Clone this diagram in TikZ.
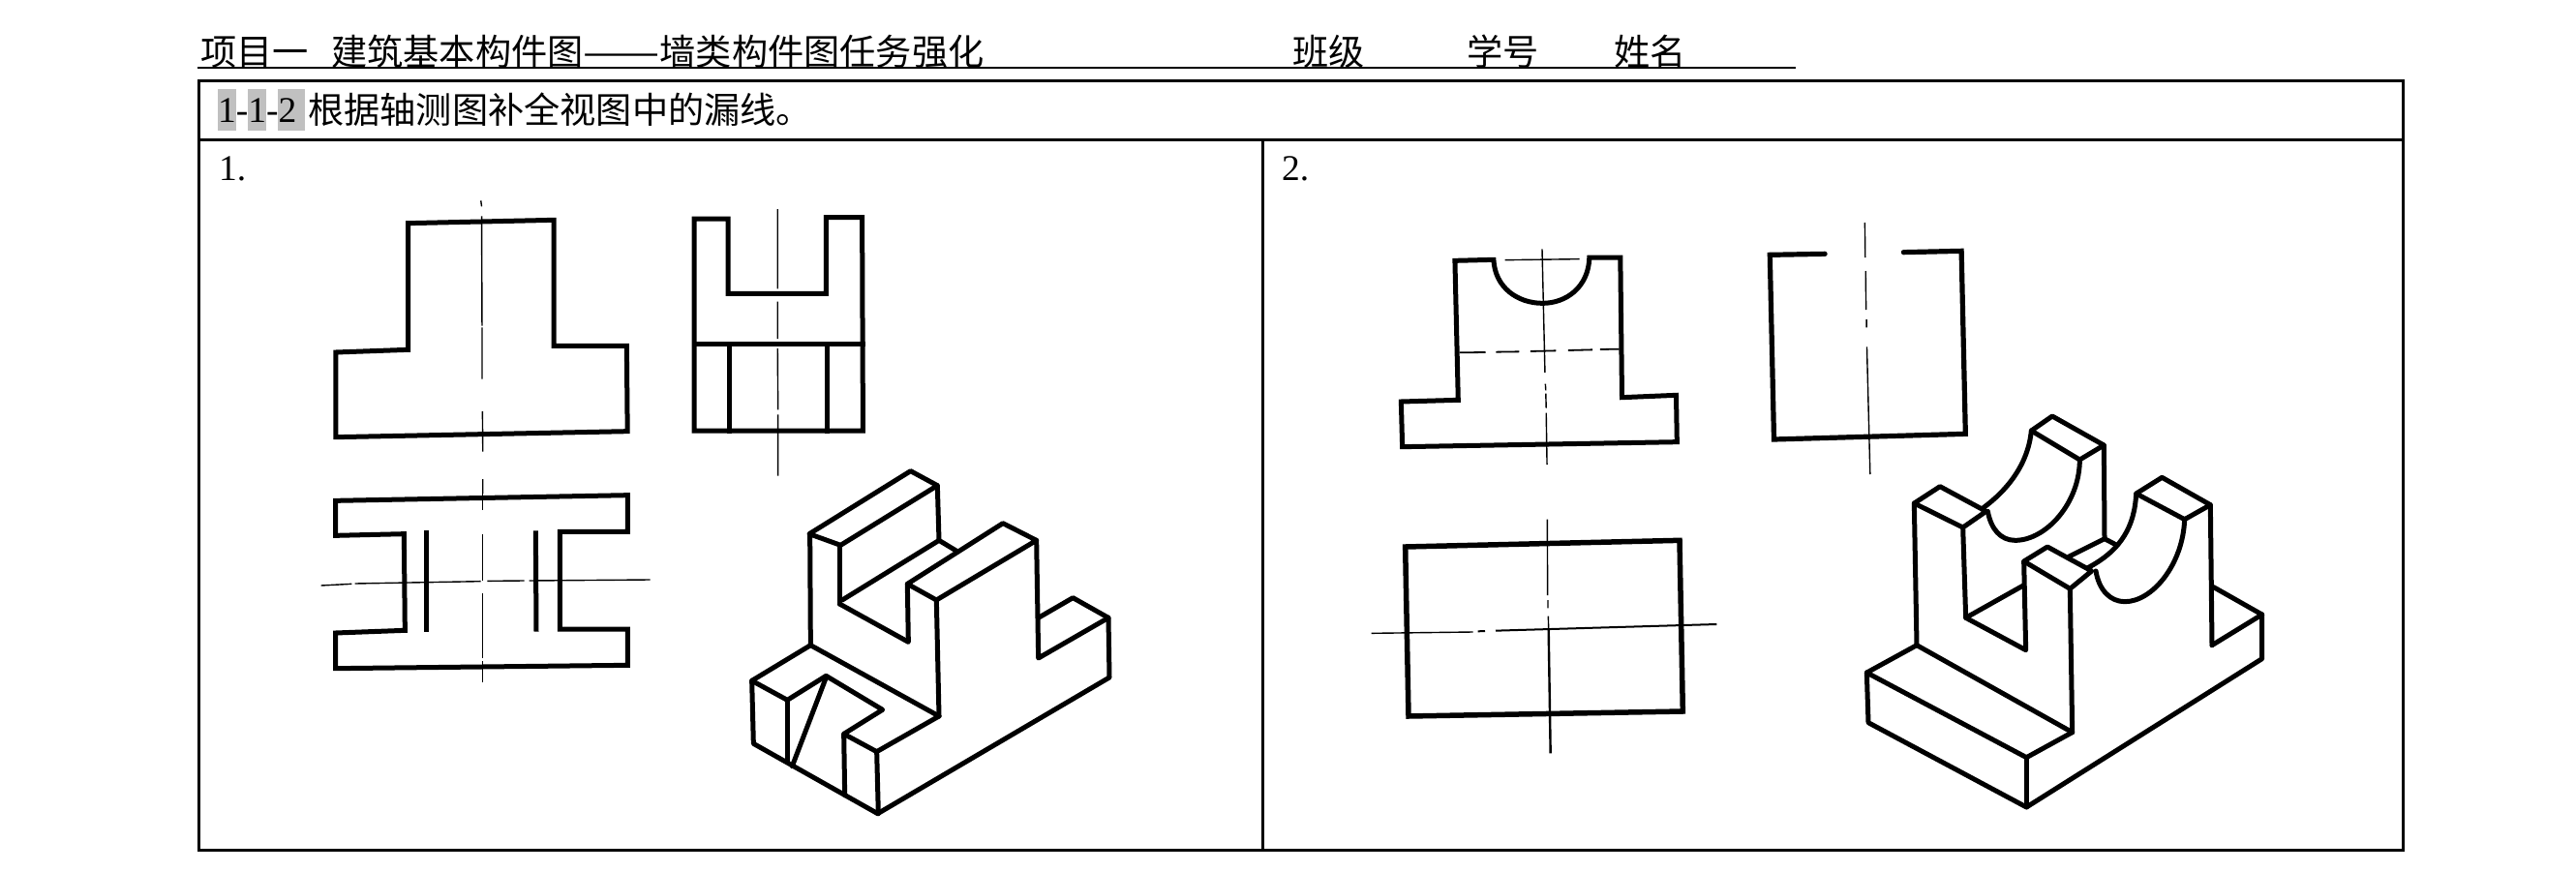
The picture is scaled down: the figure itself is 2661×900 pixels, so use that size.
\documentclass[tikz,border=0pt]{standalone}
\usepackage{graphicx}
\usepackage{fontspec}
\setmainfont{Liberation Serif}
\newfontfamily\cjk{Noto Sans CJK SC}
\definecolor{hl}{HTML}{C0C0C0}
\tikzset{
  frameline/.style={line width=3pt,black},
  outl/.style={line width=5pt,black,line join=miter,line cap=rect},
  isol/.style={line width=5pt,black,line join=round,line cap=round},
  cline/.style={line width=1.4pt,black},
  cjktext/.style={inner sep=0pt,anchor=base west,font=\cjk\fontsize{37.2}{40}\selectfont},
  lattext/.style={inner sep=0pt,anchor=base west,font=\fontsize{37.5}{40}\selectfont},
  zoomA/.style={shift={(300pt,-190pt)},x=0.40816pt,y=-0.33333pt},
  zoomB/.style={shift={(300pt,-490pt)},x=0.33333pt,y=-0.33333pt},
  zoomC/.style={shift={(760pt,-470pt)},x=0.33333pt,y=-0.33333pt},
  zoomD/.style={shift={(1420pt,-230pt)},x=0.42092pt,y=-0.33333pt},
  zoomE/.style={shift={(1900pt,-410pt)},x=0.33333pt,y=-0.33333pt},
  zoomF/.style={shift={(1410pt,-530pt)},x=0.33333pt,y=-0.33333pt},
}
\begin{document}
\begin{tikzpicture}[x=1pt,y=-1pt]
\useasboundingbox (0,0) rectangle (2661,900);
\fill[white] (0,0) rectangle (2661,900);
% header
\node[cjktext] (title) at (207,67) {项目一\hspace{23.4pt}建筑基本构件图\scalebox{1.27}[1]{——}墙类构件图任务强化};
\node[cjktext] (cls) at (1335,67) {班级};
\node[cjktext] (num) at (1515,67) {学号};
\node[cjktext] (nam) at (1667,67) {姓名};
\draw[line width=2pt] (204,70) -- (1855,70);
% table
\draw[frameline] (205,83.7) rectangle (2482,878.3);
\draw[frameline] (205,144.7) -- (2482,144.7);
\draw[frameline] (1304.3,144.7) -- (1304.3,878.3);
% question line
\fill[hl] (225,92) rectangle (244,135);
\fill[hl] (256,92) rectangle (275,135);
\fill[hl] (287,92) rectangle (315,135);
\node[lattext] (qn) at (225,126) {1-1-2};
\node[cjktext] (q) at (318,127) {根据轴测图补全视图中的漏线。};
\node[lattext] (n1) at (226,186) {1.};
\node[lattext] (n2) at (1324,186) {2.};
% Drawing 1: front view
\begin{scope}[zoomA]
\draw[outl] (115,522) -- (298,514) -- (298,122) -- (667,112) -- (667,502) -- (851,502) -- (853,767) -- (115,785) -- cycle;
\draw[cline] (482,52) -- (484,70) (484,100) -- (485,440) (485,445) -- (485,605) (486,705) -- (487,830) (487,915) -- (487,960);
% side view
\draw[outl] (1022,108) -- (1108,108) -- (1108,340) -- (1356,340) -- (1356,104) -- (1447,104) -- (1449,765) -- (1022,765) -- cycle;
\draw[outl] (1022,497) -- (1449,497);
\draw[outl] (1111,497) -- (1111,765);
\draw[outl] (1358,497) -- (1358,765);
\draw[cline] (1233,78) -- (1233,325) (1233,365) -- (1233,480) (1233,510) -- (1234,700) (1234,715) -- (1234,905);
\end{scope}
% top view
\begin{scope}[zoomB]
\draw[outl] (140,82) -- (1045,65) -- (1045,178) -- (835,178) -- (835,480) -- (1045,480) -- (1045,592) -- (140,602) -- (140,492) -- (355,484) -- (352,185) -- (140,190) -- cycle;
\draw[outl,line cap=butt] (422,175) -- (422,490);
\draw[outl,line cap=butt] (760,175) -- (762,488);
\draw[cline] (595,15) -- (595,110) (595,185) -- (595,330) (595,370) -- (595,570) (596,580) -- (596,645);
\draw[cline] (95,345) -- (190,340) (200,339) -- (590,332) (610,331) -- (725,330) (740,330) -- (1115,327);
\end{scope}
% isometric 1
\begin{scope}[zoomC]
\draw[isol] (228,245) -- (542,50) -- (625,95) -- (325,280) -- cycle;
\draw[isol] (230,245) -- (232,590);
\draw[isol] (322,285) -- (322,462);
\draw[isol] (625,95) -- (630,265) -- (688,300);
\draw[isol] (330,450) -- (630,265);
\draw[isol] (322,462) -- (535,580) -- (532,400);
\draw[isol] (532,400) -- (828,212) -- (932,265) -- (622,450) -- cycle;
\draw[isol] (622,450) -- (630,810);
\draw[isol] (932,265) -- (938,630) -- (1155,505);
\draw[isol] (938,505) -- (1045,443) -- (1155,505) -- (1158,690) -- (440,1112);
\draw[isol] (232,590) -- (630,810);
\draw[isol] (232,590) -- (50,700) -- (55,895) -- (440,1112);
\draw[isol] (50,700) -- (160,760) -- (280,685) -- (455,790) -- (335,865) -- (437,920) -- (630,810);
\draw[isol] (160,760) -- (160,950);
\draw[isol] (280,690) -- (175,965);
\draw[isol] (335,865) -- (338,1055);
\draw[isol] (437,920) -- (442,1112);
\end{scope}
% Drawing 2: front view and side view
\begin{scope}[zoomD]
\draw[outl] (65,555) -- (205,550) -- (197,118) -- (292,115) .. controls (295,200) and (350,250) .. (412,250) .. controls (470,250) and (525,200) .. (527,108) -- (603,108) -- (607,542) -- (740,535) -- (742,680) -- (68,695) -- cycle;
\draw[cline] (320,116) -- (503,113);
\draw[cline] (411,82) -- (418,465) (419,500) -- (420,520) (420,530) -- (421,575) (421,590) -- (423,750);
\draw[line width=1.8pt] (208,403) -- (272,402) (298,401) -- (355,400) (382,399) -- (445,397) (475,396) -- (535,394) (553,393) -- (600,392);
\draw[line width=5.2pt,line cap=round,line join=miter] (1105,97) -- (970,100) -- (980,672) -- (1450,655) -- (1440,88) -- (1298,92);
\draw[cline] (1203,0) -- (1204,108) (1205,150) -- (1206,270) (1207,300) -- (1207,325) (1208,385) -- (1216,780);
\end{scope}
% top view 2
\begin{scope}[zoomF]
\draw[line width=5.5pt,line join=miter] (125,105) -- (975,85) -- (985,615) -- (135,630) -- cycle;
\draw[cline] (20,373) -- (335,369);
\draw[line width=2pt] (350,367) -- (372,366) (405,365) -- (1090,345);
\draw[cline] (565,20) -- (566,255) (567,270) -- (567,295) (568,320) -- (569,360);
\draw[line width=2.4pt] (569,360) -- (575,745);
\end{scope}
% isometric 2
\begin{scope}[zoomE]
\draw[isol] (240,770) -- (85,855) -- (90,1010) -- (580,1272) -- (1310,812) -- (1310,675) -- (1160,590);
\draw[isol] (85,855) -- (580,1118) -- (722,1040);
\draw[isol] (580,1118) -- (580,1272);
\draw[isol] (240,770) -- (722,1040);
\draw[isol] (1310,675) -- (1155,770);
\draw[isol] (232,330) -- (312,278) -- (455,355) -- (383,405) -- cycle;
\draw[isol] (232,330) -- (240,770);
\draw[isol] (383,405) -- (392,685) -- (578,785) -- (572,510);
\draw[isol] (392,685) -- (570,585);
\draw[isol] (572,510) -- (645,465) -- (782,540) -- (715,595) -- cycle;
\draw[isol] (715,595) -- (722,1040);
\draw[isol] (1150,335) -- (1155,770);
\draw[isol] (595,105) -- (660,60) -- (820,150) -- (745,195) -- cycle;
\draw[isol] (820,150) -- (822,440) -- (860,460);
\draw[isol] (822,440) -- (712,495);
\draw[isol] (920,300) -- (1000,250) -- (1150,335) -- (1070,380) -- cycle;
\draw[isol] (595,105) .. controls (585,210) and (520,290) .. (445,345);
\draw[isol] (745,195) .. controls (745,330) and (640,445) .. (545,445) .. controls (500,445) and (470,410) .. (460,355);
\draw[isol] (920,300) .. controls (915,400) and (875,475) .. (770,530);
\draw[isol] (1070,380) .. controls (1065,520) and (970,635) .. (885,635) .. controls (840,635) and (805,600) .. (795,540);
\end{scope}
\end{tikzpicture}
\end{document}
